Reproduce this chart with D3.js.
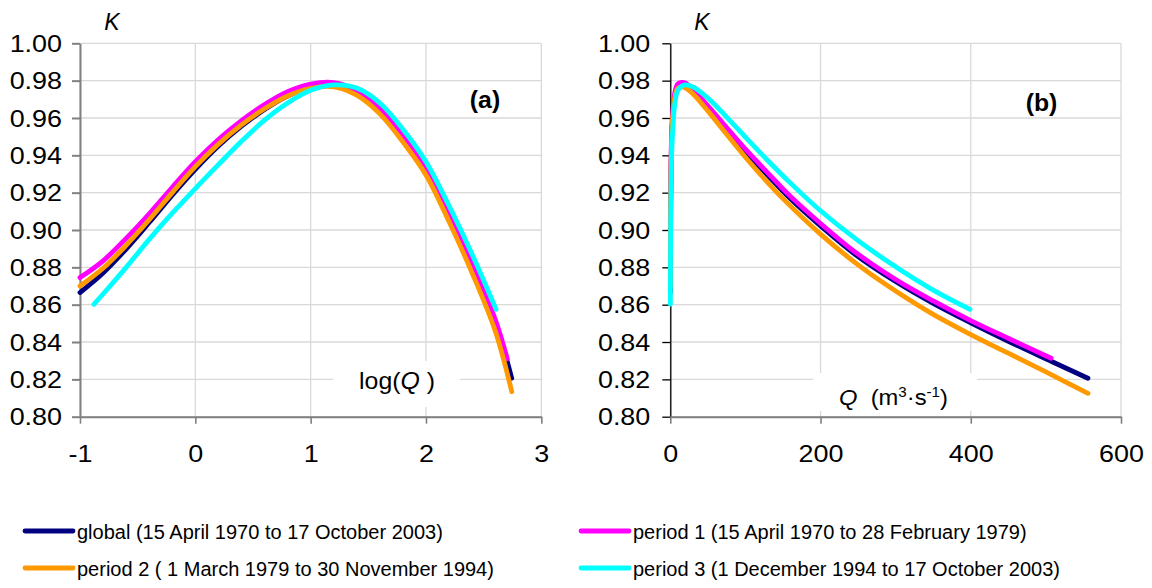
<!DOCTYPE html>
<html><head><meta charset="utf-8">
<script src="https://cdn.jsdelivr.net/npm/d3@7"></script>
<style>
body{margin:0;background:#fff}
svg{display:block}
text{font-family:"Liberation Sans",Arial,sans-serif;fill:#000}
</style>
</head><body>
<svg id="c" width="1152" height="588"></svg>
<script>
// ---------- data ----------
const seriesNames = ["global (15 April 1970 to 17 October 2003)",
                     "period 1 (15 April 1970 to 28 February 1979)",
                     "period 2 ( 1 March 1979 to 30 November 1994)",
                     "period 3 (1 December 1994 to 17 October 2003)"];
const seriesColors = ["#000080", "#FF00FF", "#FF9900", "#00FFFF"];

// panel (a): K versus log(Q)
const logQ_global = [-1,-0.8,-0.6,-0.4,-0.2,0,0.2,0.4,0.6,0.8,1.0,1.2,1.4,1.6,1.8,2.0,2.2,2.4,2.6,2.744];
const Ka_global   = [0.8665,0.8770,0.8898,0.9040,0.9187,0.9325,0.9450,0.9556,0.9646,0.9718,0.9762,0.9775,0.9735,0.9642,0.9497,0.9320,0.9082,0.8810,0.8510,0.8206];
const logQ_p1 = [-1,-0.8,-0.6,-0.4,-0.2,0,0.2,0.4,0.6,0.8,1.0,1.2,1.4,1.6,1.8,2.0,2.2,2.4,2.6,2.705];
const Ka_p1   = [0.8745,0.8835,0.8955,0.9087,0.9229,0.9366,0.9485,0.9586,0.9672,0.9741,0.9782,0.9790,0.9748,0.9652,0.9506,0.9330,0.9090,0.8818,0.8522,0.8310];
const logQ_p2 = [-1,-0.8,-0.6,-0.4,-0.2,0,0.2,0.4,0.6,0.8,1.0,1.2,1.4,1.6,1.8,2.0,2.2,2.4,2.6,2.744];
const Ka_p2   = [0.8700,0.8795,0.8918,0.9055,0.9200,0.9339,0.9460,0.9563,0.9649,0.9718,0.9759,0.9767,0.9722,0.9622,0.9472,0.9295,0.9045,0.8770,0.8460,0.8134];
const logQ_p3 = [-0.88,-0.8,-0.6,-0.4,-0.2,0,0.2,0.4,0.6,0.8,1.0,1.2,1.4,1.6,1.8,2.0,2.2,2.4,2.608];
const Ka_p3   = [0.8602,0.8657,0.8800,0.8950,0.9090,0.9222,0.9350,0.9475,0.9588,0.9680,0.9748,0.9777,0.9760,0.9680,0.9540,0.9366,0.9130,0.8870,0.8575];

// panel (b): K versus Q (m3/s)
const Q_global = [0.1,0.25,1,2.5,6.3,10,15,20,30,50,75,100,130,160,200,245,300,350,400,450,507,556];
const Kb_global= [0.8665,0.8898,0.9325,0.9556,0.9718,0.9762,0.9777,0.9775,0.9743,0.9652,0.9535,0.9420,0.9292,0.9167,0.9022,0.8873,0.8724,0.8607,0.8503,0.8404,0.8297,0.8206];
const Q_p1 = [0.1,0.25,1,2.5,6.3,10,15,20,30,50,75,100,130,160,200,245,300,350,400,450,507];
const Kb_p1= [0.8745,0.8955,0.9366,0.9586,0.9741,0.9782,0.9790,0.9787,0.9755,0.9665,0.9548,0.9433,0.9305,0.9180,0.9035,0.8885,0.8735,0.8620,0.8515,0.8420,0.8313];
const Q_p2 = [0.1,0.25,1,2.5,6.3,10,15,20,30,50,75,100,125,150,200,250,300,350,400,450,500,556];
const Kb_p2= [0.8700,0.8918,0.9339,0.9563,0.9718,0.9759,0.9767,0.9762,0.9730,0.9638,0.9513,0.9390,0.9275,0.9168,0.8978,0.8813,0.8673,0.8548,0.8440,0.8340,0.8240,0.8125];
const Q_p3 = [0.13,0.25,1,2.5,6.3,10,15,20,30,50,75,100,130,160,200,250,300,350,399];
const Kb_p3= [0.8602,0.8805,0.9225,0.9480,0.9685,0.9748,0.9770,0.9777,0.9767,0.9707,0.9605,0.9497,0.9371,0.9251,0.9103,0.8943,0.8803,0.8678,0.8575];

const yTicks  = [0.80,0.82,0.84,0.86,0.88,0.90,0.92,0.94,0.96,0.98,1.00];
const xTicksA = [-1,0,1,2,3];
const xTicksB = [0,200,400,600];

// ---------- drawing ----------
const svg = d3.select("#c");
svg.append("rect").attr("width",1152).attr("height",588).attr("fill","#fff");

const TOP = 43.3, BOT = 416.7;
const y = d3.scaleLinear().domain([0.8,1.0]).range([BOT,TOP]);

function zip(xs, ys){ return xs.map((v,i)=>[v, ys[i]]); }
const FONT = "'Liberation Sans',Arial,sans-serif";

function panel(o){
  const g = svg.append("g");
  const x = o.x;
  const [x0,x1] = x.range();
  // grid
  g.selectAll(".hg").data(yTicks).join("line")
    .attr("x1",x0).attr("x2",x1).attr("y1",d=>y(d)).attr("y2",d=>y(d))
    .attr("stroke","#d9d9d9").attr("stroke-width",1.3);
  g.selectAll(".vg").data(o.xTicks).join("line")
    .attr("x1",d=>x(d)).attr("x2",d=>x(d)).attr("y1",TOP).attr("y2",BOT)
    .attr("stroke","#d9d9d9").attr("stroke-width",1.3);
  // label box
  g.append("rect").attr("x",o.box[0]).attr("y",o.box[1]).attr("width",o.box[2]).attr("height",o.box[3]).attr("fill","#fff");

  // y axis
  const ya = g.append("g").attr("transform",`translate(${x0},0)`)
    .call(d3.axisLeft(y).tickValues(yTicks).tickFormat(d3.format(".2f")).tickSize(8).tickSizeOuter(0));
  ya.select(".domain").attr("stroke",o.yAxisColor).attr("stroke-width",o.yAxisWidth);
  ya.selectAll(".tick line").attr("stroke",o.yAxisColor).attr("stroke-width",o.yAxisWidth);
  ya.selectAll(".tick text").attr("x",null).attr("dy","0.36em")
    .attr("transform",`translate(${-o.yLabelGap},0) scale(1.17,1)`)
    .style("font-size","23px").style("font-family",FONT).attr("fill","#000");

  // x axis
  const xa = g.append("g").attr("transform",`translate(0,${BOT})`)
    .call(d3.axisBottom(x).tickValues(o.xTicks).tickFormat(d=>String(d)).tickSize(7).tickSizeOuter(0));
  xa.select(".domain").attr("stroke","#808080").attr("stroke-width",2);
  xa.selectAll(".tick line").attr("stroke","#808080").attr("stroke-width",1.6);
  xa.selectAll(".tick text").attr("y",null).attr("dy",null)
    .attr("transform","translate(0,45.5) scale(1.17,1)")
    .style("font-size","23px").style("font-family",FONT).attr("fill","#000");

  // series
  const line = d3.line().x(d=>x(d[0])).y(d=>y(d[1])).curve(d3.curveCatmullRom.alpha(0.5));
  o.series.forEach((s,i)=>{
    g.append("path").attr("d",line(s)).attr("fill","none")
      .attr("stroke",seriesColors[i]).attr("stroke-width",4.8)
      .attr("stroke-linecap","round").attr("stroke-linejoin","round");
  });

  // K label
  g.append("text").attr("x",o.kx).attr("y",30).attr("text-anchor","middle")
    .style("font-size","23px").style("font-style","italic").text("K");
  // panel tag
  g.append("text").attr("transform",`translate(${o.tag[0]},${o.tag[1]}) scale(1.08,1)`)
    .attr("text-anchor","middle").style("font-size","23px").style("font-weight","bold").text(o.tag[2]);
  return g;
}

const xA = d3.scaleLinear().domain([-1,3]).range([80,541.3]);
const xB = d3.scaleLinear().domain([0,600]).range([670.3,1121]);

panel({
  x:xA, xTicks:xTicksA, yAxisColor:"#808080", yAxisWidth:2, yLabelGap:18,
  box:[333,361,127,46], kx:112, tag:[485,108,"(a)"],
  series:[zip(logQ_global,Ka_global), zip(logQ_p1,Ka_p1), zip(logQ_p2,Ka_p2), zip(logQ_p3,Ka_p3)]
});
panel({
  x:xB, xTicks:xTicksB, yAxisColor:"#000", yAxisWidth:1.3, yLabelGap:20,
  box:[813,373,164,38], kx:702, tag:[1041.5,110.5,"(b)"],
  series:[zip(Q_global,Kb_global), zip(Q_p1,Kb_p1), zip(Q_p2,Kb_p2), zip(Q_p3,Kb_p3)]
});

// axis titles
const tA = svg.append("text").attr("transform","translate(397,389) scale(1.08,1)")
  .attr("text-anchor","middle").style("font-size","23px").style("white-space","pre");
tA.append("tspan").text("log(");
tA.append("tspan").style("font-style","italic").text("Q");
tA.append("tspan").text(" )");

const tB = svg.append("text").attr("transform","translate(839,405) scale(1.08,1)")
  .style("font-size","22px").style("white-space","pre");
tB.append("tspan").style("font-style","italic").text("Q");
tB.append("tspan").text("  (m");
tB.append("tspan").attr("dy",-8).style("font-size","14px").text("3");
tB.append("tspan").attr("dy",8).text("·s");
tB.append("tspan").attr("dy",-8).style("font-size","14px").text("-1");
tB.append("tspan").attr("dy",8).text(")");

// legend
const legPos = [[25,531],[581,531],[25,568],[581,568]];
seriesNames.forEach((nm,i)=>{
  const [lx,ly] = legPos[i];
  svg.append("line").attr("x1",lx).attr("x2",lx+48).attr("y1",ly).attr("y2",ly)
    .attr("stroke",seriesColors[i]).attr("stroke-width",4.8).attr("stroke-linecap","round");
  svg.append("text").attr("x",lx+52).attr("y",ly+8).style("font-size","20px")
    .style("white-space","pre").text(nm);
});
</script>
</body></html>
